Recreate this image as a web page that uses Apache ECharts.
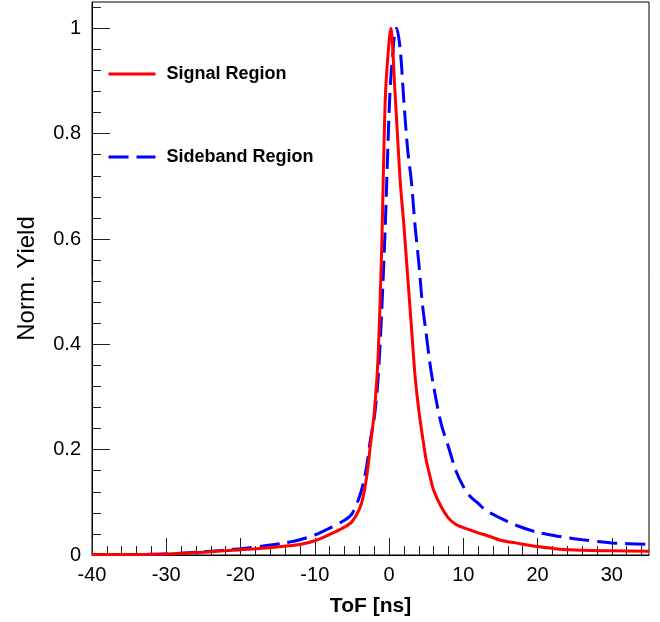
<!DOCTYPE html>
<html>
<head>
<meta charset="utf-8">
<script src="https://cdn.jsdelivr.net/npm/echarts@6/dist/echarts.min.js"></script>
<style>
html,body{margin:0;padding:0;background:#fff;}
#chart{width:660px;height:622px;}
</style>
</head>
<body>
<div id="chart"></div>
<script>
// ToF grid shared by both curves (ns)
const tof = [-40,-35,-30,-25,-20,-17,-14,-12,-10,-8,-6,-5,-4,-3.5,-3,-2.5,-2,-1.5,-1,-0.5,0,0.25,0.5,0.75,1,1.5,2,2.5,3,3.5,4,4.5,5,5.5,6,7,8,9,10,11,12,13,14,15,17,20,23,26,30,35];
// Signal Region normalized yield
const signalYield = [0.001,0.001,0.002,0.005,0.010,0.013,0.017,0.020,0.027,0.039,0.053,0.063,0.087,0.11,0.15,0.21,0.27,0.37,0.58,0.87,0.975,1.0,0.96,0.89,0.83,0.71,0.625,0.53,0.435,0.34,0.275,0.225,0.18,0.15,0.123,0.092,0.07,0.058,0.052,0.047,0.042,0.038,0.033,0.028,0.023,0.016,0.011,0.009,0.008,0.007];
// Sideband Region normalized yield
const sidebandYield = [0.001,0.001,0.002,0.006,0.012,0.017,0.023,0.029,0.038,0.051,0.066,0.078,0.11,0.135,0.17,0.22,0.26,0.33,0.46,0.63,0.84,0.91,0.95,0.99,1.0,0.96,0.86,0.77,0.71,0.625,0.555,0.475,0.42,0.364,0.32,0.25,0.205,0.16,0.13,0.11,0.098,0.085,0.077,0.07,0.057,0.043,0.035,0.029,0.023,0.020];

const seriesNames = ['Signal Region', 'Sideband Region'];
const xMajorTicks = [-40,-30,-20,-10,0,10,20,30];
const xMinorTicks = [-38,-36,-34,-32,-28,-26,-24,-22,-18,-16,-14,-12,-8,-6,-4,-2,2,4,6,8,12,14,16,18,22,24,26,28,32,34];
const yMajorTicks = [0,0.2,0.4,0.6,0.8,1];
const yMinorTicks = [0.04,0.08,0.12,0.16,0.24,0.28,0.32,0.36,0.44,0.48,0.52,0.56,0.64,0.68,0.72,0.76,0.84,0.88,0.92,0.96,1.04];

const FONT = '"Liberation Sans", Arial, Helvetica, sans-serif';
const chart = echarts.init(document.getElementById('chart'), null, {renderer: 'canvas'});

const tickStyle = (len, vals) => ({show: true, inside: true, length: len, customValues: vals, lineStyle: {color: '#222', width: 1}});
const legendBase = {
  left: 107, padding: 0, itemWidth: 47, itemHeight: 20, itemGap: 0,
  lineStyle: {width: 3}, itemStyle: {opacity: 0},
  textStyle: {fontFamily: FONT, fontWeight: 'bold', fontSize: 18, color: '#000', lineHeight: 20, padding: [0, 0, 0, 6]}
};

const option = {
  animation: false,
  backgroundColor: '#fff',
  grid: {left: 92, right: 11, top: 2, bottom: 63, show: true, borderColor: '#000', borderWidth: 1, containLabel: false},
  legend: [
    Object.assign({}, legendBase, {data: [seriesNames[0]], top: 64}),
    Object.assign({}, legendBase, {data: [seriesNames[1]], top: 147})
  ],
  xAxis: [
    {type: 'value', min: -40, max: 35, interval: 10, position: 'bottom',
     name: 'ToF [ns]', nameLocation: 'middle', nameGap: 41,
     nameTextStyle: {fontFamily: FONT, fontWeight: 'bold', fontSize: 21, color: '#000'},
     axisLine: {show: true, onZero: false, lineStyle: {color: '#000', width: 1}},
     axisTick: tickStyle(17, xMajorTicks),
     axisLabel: {customValues: xMajorTicks, fontFamily: FONT, fontSize: 20, color: '#000', margin: 10},
     splitLine: {show: false}},
    {type: 'value', min: -40, max: 35, position: 'bottom',
     axisLine: {show: false, onZero: false}, axisLabel: {show: false}, splitLine: {show: false},
     axisTick: tickStyle(9, xMinorTicks)}
  ],
  yAxis: [
    {type: 'value', min: 0, max: 1.05, interval: 0.2, position: 'left',
     name: 'Norm. Yield', nameLocation: 'middle', nameGap: 53,
     nameTextStyle: {fontFamily: FONT, fontSize: 24, color: '#000'},
     axisLine: {show: true, onZero: false, lineStyle: {color: '#000', width: 1}},
     axisTick: tickStyle(18, yMajorTicks),
     axisLabel: {customValues: yMajorTicks, fontFamily: FONT, fontSize: 20, color: '#000', margin: 11},
     splitLine: {show: false}},
    {type: 'value', min: 0, max: 1.05, position: 'left',
     axisLine: {show: false, onZero: false}, axisLabel: {show: false}, splitLine: {show: false},
     axisTick: tickStyle(9, yMinorTicks)}
  ],
  series: [
    {name: seriesNames[0], type: 'line', xAxisIndex: 0, yAxisIndex: 0, showSymbol: false, symbol: 'none', smooth: 0.3,
     z: 3, color: '#ff0000', lineStyle: {color: '#ff0000', width: 3, type: 'solid'},
     data: tof.map((t, i) => [t, signalYield[i]])},
    {name: seriesNames[1], type: 'line', xAxisIndex: 0, yAxisIndex: 0, showSymbol: false, symbol: 'none', smooth: 0.3,
     z: 2, color: '#0000ff', lineStyle: {color: '#0000ff', width: 3, type: [20, 8]},
     data: tof.map((t, i) => [t, sidebandYield[i]])}
  ]
};
chart.setOption(option);
</script>
</body>
</html>
